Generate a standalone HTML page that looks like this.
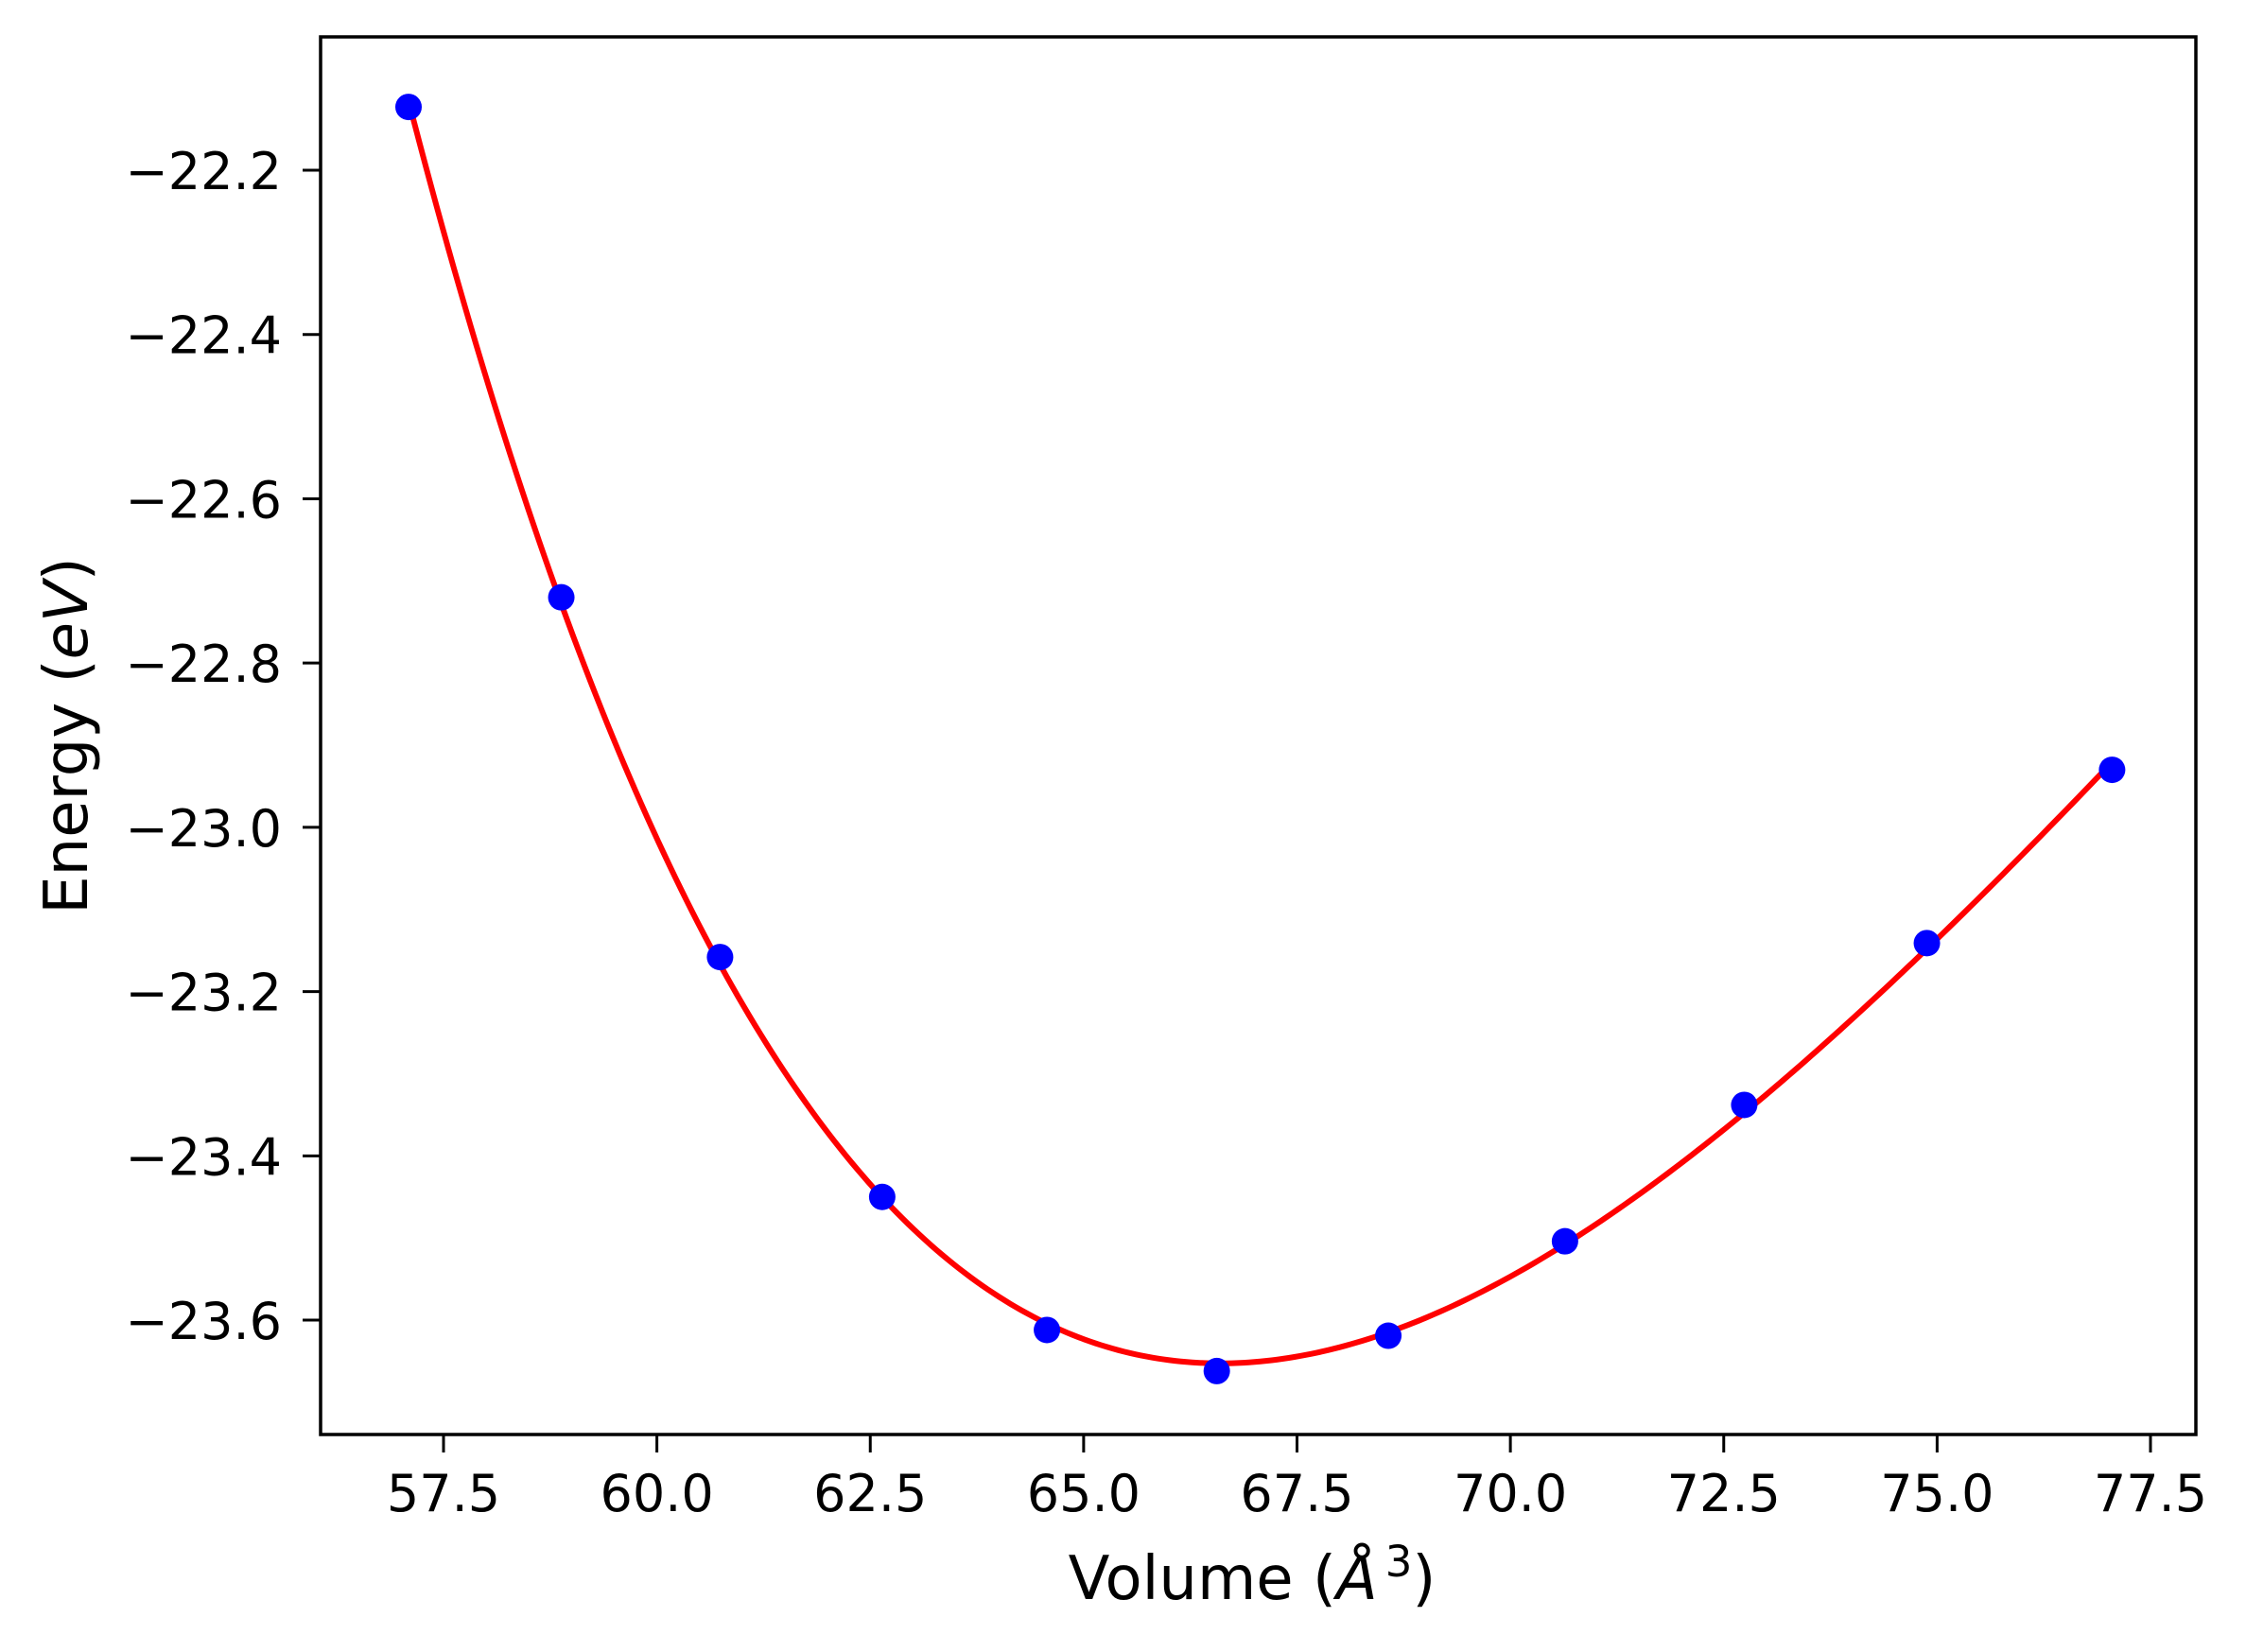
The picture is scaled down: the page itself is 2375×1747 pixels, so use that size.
<!DOCTYPE html>
<html><head><meta charset="utf-8"><style>
html,body{margin:0;padding:0;background:#fff;}
svg{display:block;font-family:"DejaVu Sans","Liberation Sans",sans-serif;}
</style></head><body>
<svg id="chart" width="2375" height="1747" viewBox="0 0 2375 1747" xmlns="http://www.w3.org/2000/svg">
<rect width="2375" height="1747" fill="#fff"/>
<g id="fit"></g>
<g id="pts"></g>
<g id="xt"></g>
<g id="yt"></g>
<rect x="339" y="39" width="1983" height="1478" fill="none" stroke="#000" stroke-width="3.5"/>
<text x="1324" y="1691" font-size="64" text-anchor="middle">Volume (<tspan font-style="italic">Å</tspan><tspan dx="8" dy="-24" font-size="45">3</tspan><tspan dy="24">)</tspan></text>
<text transform="translate(92,778) rotate(-90)" font-size="64" text-anchor="middle">Energy (<tspan font-style="italic">eV</tspan>)</text>
</svg>
<script>
const volumes = [57.09, 58.88, 60.74, 62.64, 64.57, 66.56, 68.57, 70.64, 72.74, 74.88, 77.05];
const energies = [-22.123, -22.72, -23.158, -23.45, -23.612, -23.662, -23.619, -23.504, -23.338, -23.141, -22.930];
const xTicks = [57.5, 60.0, 62.5, 65.0, 67.5, 70.0, 72.5, 75.0, 77.5];
const yTicks = [-22.2, -22.4, -22.6, -22.8, -23.0, -23.2, -23.4, -23.6];

const NS = "http://www.w3.org/2000/svg";
const X = v => 469 + (v - 57.5) * 90.25;
const Y = e => 180 + (-22.2 - e) * 868.6;
function mk(tag, attrs, parent){const el=document.createElementNS(NS,tag);for(const k in attrs)el.setAttribute(k,attrs[k]);parent.appendChild(el);return el;}

// Birch-Murnaghan style cubic fit in V^(-2/3)
const n = volumes.length, M = [[0,0,0,0],[0,0,0,0],[0,0,0,0],[0,0,0,0]], R=[0,0,0,0];
for(let i=0;i<n;i++){const t=Math.pow(volumes[i],-2/3);const p=[1,t,t*t,t*t*t];
 for(let a=0;a<4;a++){R[a]+=p[a]*energies[i];for(let b=0;b<4;b++)M[a][b]+=p[a]*p[b];}}
for(let c=0;c<4;c++){let piv=c;for(let r=c+1;r<4;r++)if(Math.abs(M[r][c])>Math.abs(M[piv][c]))piv=r;
 [M[c],M[piv]]=[M[piv],M[c]];[R[c],R[piv]]=[R[piv],R[c]];
 for(let r=0;r<4;r++){if(r===c)continue;const f=M[r][c]/M[c][c];for(let k=c;k<4;k++)M[r][k]-=f*M[c][k];R[r]-=f*R[c];}}
const co=R.map((r,i)=>r/M[i][i]);
const fitE = v => {const t=Math.pow(v,-2/3);return co[0]+co[1]*t+co[2]*t*t+co[3]*t*t*t;};
let d="";const v0=volumes[0],v1=volumes[n-1];
for(let i=0;i<=300;i++){const v=v0+(v1-v0)*i/300;d+=(i?"L":"M")+X(v).toFixed(2)+" "+Y(fitE(v)).toFixed(2);}
const fitG=document.getElementById("fit");
const path=mk("path",{d:d,fill:"none",stroke:"#ff0000","stroke-width":"6","stroke-linejoin":"round"},fitG);



const ptsG=document.getElementById("pts");
volumes.forEach((v,i)=>{
 const c=mk("circle",{cx:X(v),cy:Y(energies[i]),r:14,fill:"#0000ff"},ptsG);
 
 
});

const xt=document.getElementById("xt");
xTicks.forEach(t=>{
 const l=mk("line",{x1:X(t),x2:X(t),y1:1517,y2:1536,stroke:"#000","stroke-width":"3"},xt);
 
 
 const tx=mk("text",{x:X(t),y:1598,"font-size":"54","text-anchor":"middle"},xt);
 tx.textContent=t.toFixed(1);
 
 
});
const yt=document.getElementById("yt");
yTicks.forEach(t=>{
 const l=mk("line",{x1:320,x2:339,y1:Y(t),y2:Y(t),stroke:"#000","stroke-width":"3"},yt);
 
 
 const tx=mk("text",{x:298,y:Y(t)+20,"font-size":"54","text-anchor":"end"},yt);
 tx.textContent="\u2212"+Math.abs(t).toFixed(1);
 
 
});
</script>
</body></html>
